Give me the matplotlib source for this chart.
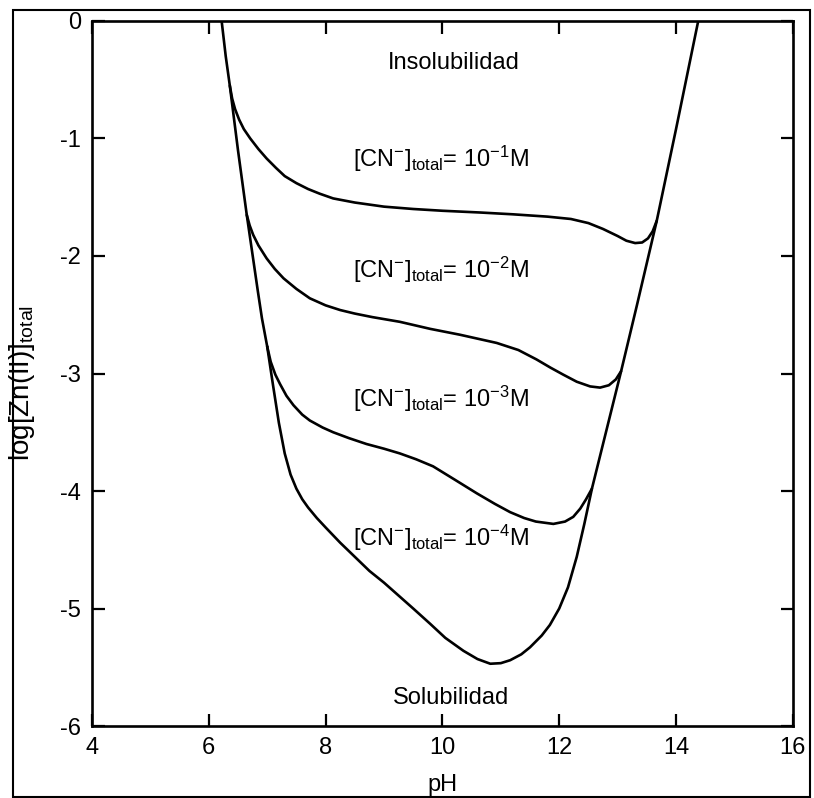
import matplotlib
matplotlib.use("Agg")
import matplotlib.pyplot as plt
from matplotlib.patches import Rectangle

plt.rcParams['font.family'] = ['Liberation Sans', 'DejaVu Sans']
plt.rcParams['mathtext.fontset'] = 'custom'
plt.rcParams['mathtext.rm'] = 'Liberation Sans'
plt.rcParams['mathtext.it'] = 'Liberation Sans:italic'
plt.rcParams['mathtext.bf'] = 'Liberation Sans:bold'

# Left solubility boundary (steep line)
left_ph = [6.22, 6.29, 6.36, 6.50, 6.65, 6.84, 6.91, 7.00]
left_y = [0.0, -0.30, -0.55, -1.10, -1.65, -2.30, -2.53, -2.77]

# [CN-]total = 1e-4 M curve, continuing into the right boundary
c4_ph = [7.00, 7.10, 7.20, 7.30, 7.40, 7.50, 7.60, 7.70, 7.85, 8.00, 8.25,
         8.50, 8.75, 9.00, 9.25, 9.50, 9.79, 10.05, 10.36, 10.60, 10.82,
         11.00, 11.16, 11.35, 11.50, 11.70, 11.84, 12.00, 12.15, 12.30,
         12.43, 12.56, 12.80, 13.06, 13.33, 13.67, 14.00, 14.38]
c4_y = [-2.77, -3.10, -3.42, -3.68, -3.86, -3.98, -4.07, -4.14, -4.23, -4.31,
        -4.44, -4.56, -4.68, -4.78, -4.89, -5.00, -5.13, -5.25, -5.36, -5.43,
        -5.47, -5.465, -5.44, -5.39, -5.33, -5.23, -5.14, -5.00, -4.82, -4.56,
        -4.28, -3.98, -3.50, -2.98, -2.42, -1.70, -0.92, 0.0]

# [CN-]total = 1e-1 M
c1_ph = [6.36, 6.40, 6.45, 6.52, 6.60, 6.71, 6.85, 6.99, 7.15, 7.30, 7.50,
         7.70, 7.90, 8.13, 8.50, 9.00, 9.50, 10.00, 10.65, 11.20, 11.80,
         12.20, 12.50, 12.75, 13.00, 13.15, 13.30, 13.42, 13.52, 13.60, 13.67]
c1_y = [-0.55, -0.66, -0.75, -0.84, -0.92, -1.00, -1.09, -1.17, -1.25, -1.32,
        -1.38, -1.43, -1.47, -1.51, -1.545, -1.58, -1.60, -1.615, -1.63,
        -1.645, -1.665, -1.685, -1.72, -1.77, -1.83, -1.87, -1.89, -1.885,
        -1.85, -1.79, -1.70]

# [CN-]total = 1e-2 M
c2_ph = [6.65, 6.70, 6.76, 6.85, 6.99, 7.13, 7.28, 7.50, 7.73, 8.00, 8.25,
         8.50, 8.80, 9.27, 9.79, 10.30, 10.93, 11.30, 11.61, 11.85, 12.07,
         12.30, 12.53, 12.70, 12.85, 12.97, 13.06]
c2_y = [-1.65, -1.74, -1.82, -1.91, -2.02, -2.11, -2.19, -2.28, -2.36, -2.42,
        -2.46, -2.49, -2.52, -2.56, -2.62, -2.67, -2.74, -2.80, -2.88, -2.95,
        -3.01, -3.07, -3.11, -3.12, -3.10, -3.05, -2.98]

# [CN-]total = 1e-3 M
c3_ph = [7.00, 7.06, 7.14, 7.22, 7.33, 7.45, 7.60, 7.73, 7.95, 8.13, 8.40,
         8.70, 9.00, 9.27, 9.55, 9.84, 10.20, 10.59, 10.90, 11.16, 11.40,
         11.60, 11.90, 12.10, 12.24, 12.36, 12.46, 12.56]
c3_y = [-2.77, -2.90, -3.01, -3.09, -3.19, -3.27, -3.35, -3.40, -3.46, -3.50,
        -3.55, -3.60, -3.64, -3.68, -3.73, -3.79, -3.90, -4.02, -4.11, -4.18,
        -4.23, -4.26, -4.28, -4.26, -4.22, -4.15, -4.07, -3.98]

cn_labels = [r"[CN$^{-}$]$_{\mathrm{total}}$= 10$^{-1}$M",
             r"[CN$^{-}$]$_{\mathrm{total}}$= 10$^{-2}$M",
             r"[CN$^{-}$]$_{\mathrm{total}}$= 10$^{-3}$M",
             r"[CN$^{-}$]$_{\mathrm{total}}$= 10$^{-4}$M"]
cn_label_y = [-1.17, -2.12, -3.22, -4.40]

xticks = [4, 6, 8, 10, 12, 14, 16]
yticks = [0, -1, -2, -3, -4, -5, -6]

fig = plt.figure(figsize=(8.14, 7.98), dpi=100)
ax = fig.add_axes([0.113, 0.0902, 0.861, 0.8835])

lw = 1.9
for xs, ys in [(left_ph, left_y), (c4_ph, c4_y), (c1_ph, c1_y),
               (c2_ph, c2_y), (c3_ph, c3_y)]:
    ax.plot(xs, ys, color='black', lw=lw, solid_joinstyle='round',
            solid_capstyle='round')

ax.set_xlim(4, 16)
ax.set_ylim(-6, 0)
ax.set_xticks(xticks)
ax.set_yticks(yticks)
ax.set_xticklabels([str(t) for t in xticks])
ax.set_yticklabels([str(t) for t in yticks])
ax.tick_params(direction='in', length=9, width=1.6, labelsize=17, pad=8,
               top=True, right=True)
for s in ax.spines.values():
    s.set_linewidth(1.9)

ax.set_xlabel('pH', fontsize=17, labelpad=11)
ax.set_ylabel(r"log[Zn(II)]$_{\mathrm{total}}$", fontsize=20)
ax.yaxis.set_label_coords(-0.078, 0.487)

ax.text(10.2, -0.36, 'Insolubilidad', fontsize=17, ha='center', va='center')
ax.text(10.15, -5.76, 'Solubilidad', fontsize=17, ha='center', va='center')
for lab, yy in zip(cn_labels, cn_label_y):
    ax.text(8.47, yy, lab, fontsize=17, ha='left', va='center')

fig.add_artist(Rectangle((0.0154, 0.0015), 0.9795, 0.986, transform=fig.transFigure,
                         fill=False, edgecolor='black', lw=1.5))

fig.savefig('out.png', dpi=100)
